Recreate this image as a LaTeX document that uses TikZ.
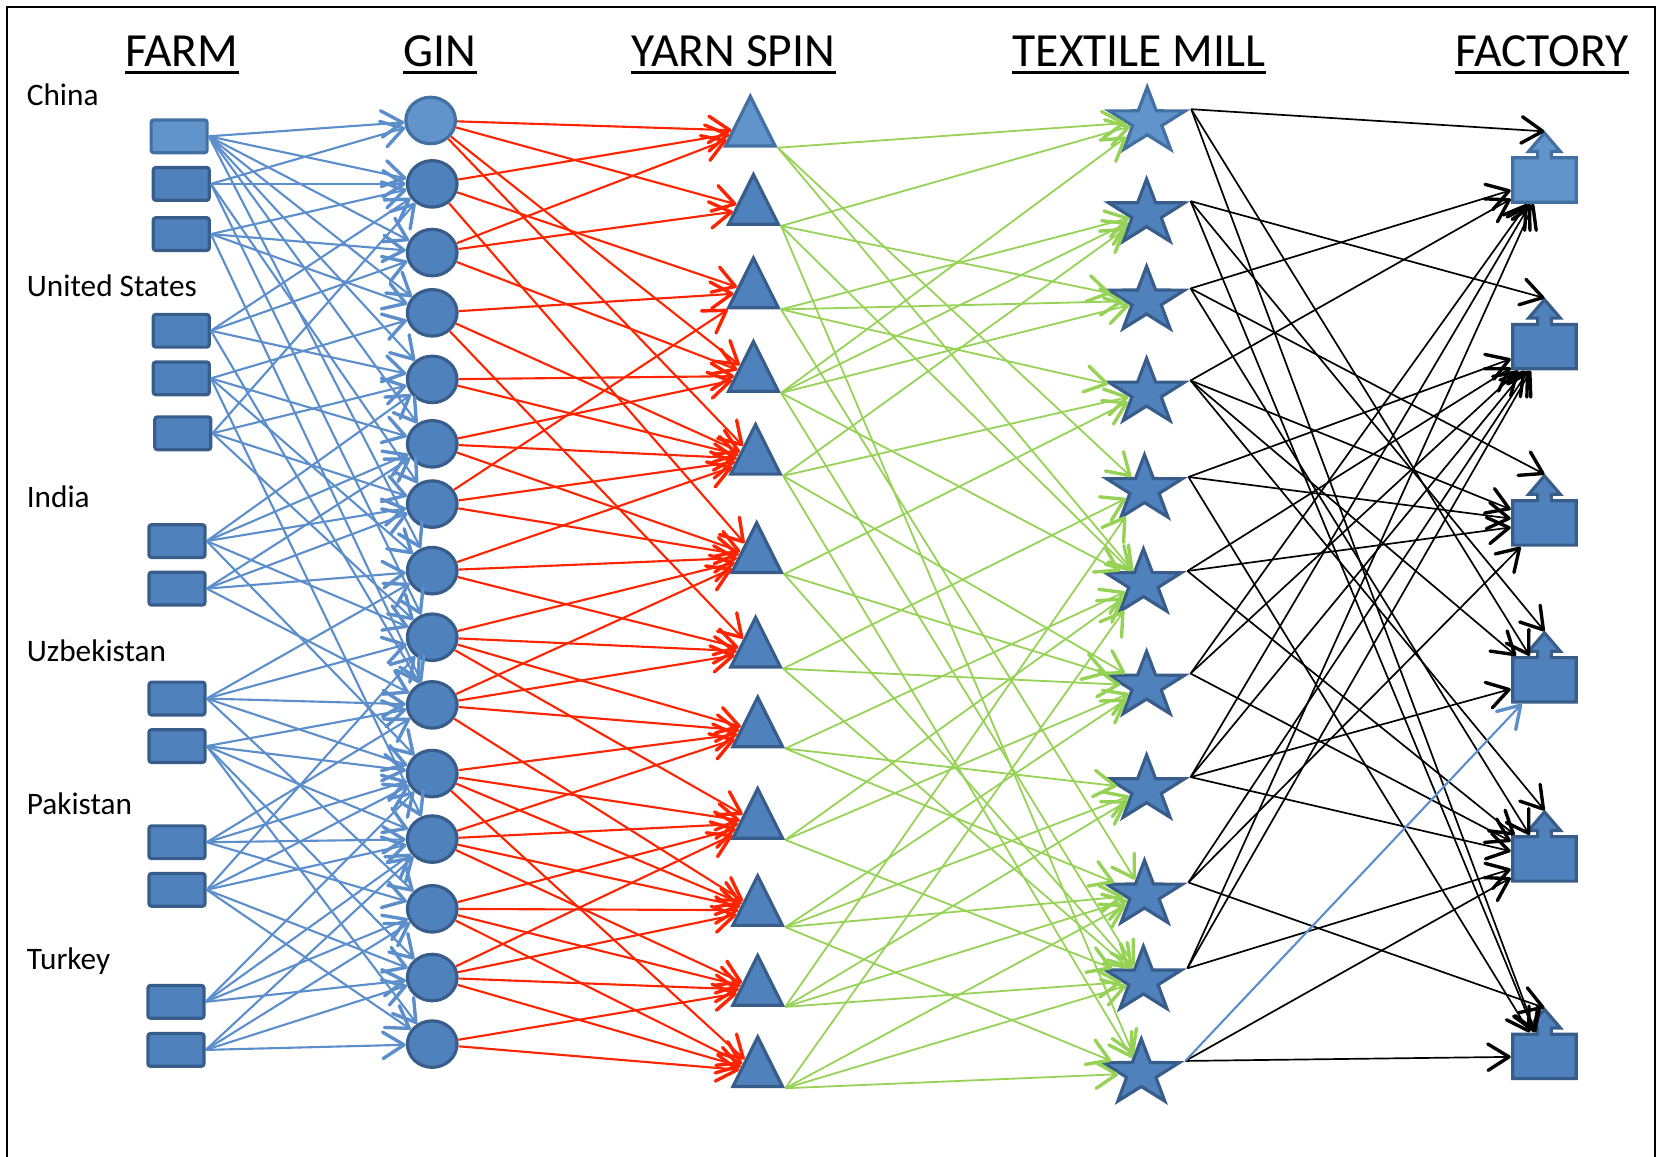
\documentclass[tikz,border=0pt]{standalone}
\usepackage{fontspec}
\setmainfont{Carlito}
\usetikzlibrary{shapes.geometric,arrows.meta}
\definecolor{nodefill}{RGB}{79,129,189}
\definecolor{nodeline}{RGB}{56,93,138}
\definecolor{lightfill}{RGB}{97,148,203}
\definecolor{lightline}{RGB}{66,112,162}
\definecolor{bluee}{RGB}{91,142,203}
\definecolor{rede}{RGB}{255,36,0}
\definecolor{greene}{RGB}{150,210,86}
\tikzset{
  shp/.style={draw=nodeline, fill=nodefill, line width=1.5pt, inner sep=0pt, outer sep=0.8pt},
  lite/.style={draw=lightline, fill=lightfill},
  farmbox/.style={shp, rectangle, rounded corners=1.2pt, minimum width=26.5pt, minimum height=15.5pt},
  ginball/.style={shp, ellipse, minimum width=23.5pt, minimum height=22pt},
  yarntri/.style={shp, isosceles triangle, isosceles triangle stretches, shape border rotate=90, minimum width=23.5pt, minimum height=23.5pt, anchor=apex},
  millstar/.style={shp, star, star points=5, star point ratio=2.6, minimum size=32.6pt, transform shape},
  factorybody/.style={rectangle, inner sep=0pt, outer sep=0.8pt, minimum width=30.3pt, minimum height=21.2pt},
  headV/.style={-{Straight Barb[length=10pt,width=12.5pt,line width=1.6pt,round]}},
  blueedge/.style={draw=bluee, line width=1pt, headV},
  rededge/.style={draw=rede, line width=1pt, headV},
  greenedge/.style={draw=greene, line width=0.85pt, headV},
  blackedge/.style={draw=black, line width=0.8pt, headV},
  title/.style={font=\fontsize{22.5}{27}\selectfont, inner sep=0pt, anchor=base},
  country/.style={font=\fontsize{14.8}{18}\selectfont, inner sep=0pt, anchor=base west},
  uline/.style={line width=1.25pt}
}
\newcommand{\fctry}[3]{%
  \begin{scope}[shift={(1461.5,#2)}]
    \path[shp,#3] (-30,21) -- (-30,-21) -- (-6.5,-21) -- (-6.5,-27) -- (-15,-27) -- (0,-44.5) -- (15,-27) -- (6.5,-27) -- (6.5,-21) -- (30,-21) -- (30,21) -- cycle;
    \node[factorybody] (#1) at (0,0) {};
    \coordinate (#1t) at (0,-46);
  \end{scope}}
\newcommand{\mstar}[4]{%
  \begin{scope}[shift={(#2,#3)},xscale=1.16]
    \node[millstar,#4] (#1) at (0,0) {};
  \end{scope}}
\begin{document}
\begin{tikzpicture}[x=0.5pt,y=-0.5pt]
\useasboundingbox (0,0) rectangle (1568,1094);
\draw[line width=1pt] (7,1110) -- (7,7) -- (1566,7) -- (1566,1110);
% titles
\node[title] (hfarm) at (172,63) {FARM};
\node[title] (hgin) at (416.5,63) {GIN};
\node[title] (hyarn) at (694,63) {YARN SPIN};
\node[title] (hmill) at (1078,63) {TEXTILE MILL};
\node[title] (hfac) at (1459,63) {FACTORY};
\foreach \h in {hfarm,hgin,hyarn,hmill,hfac}
  \draw[uline] ([yshift=-2.75pt]\h.base west) -- ([yshift=-2.75pt]\h.base east);
% countries
\node[country] (lchina) at (25,100) {China};
\node[country] (lus) at (25,281) {United States};
\node[country] (lindia) at (25,480) {India};
\node[country] (luzb) at (25,626) {Uzbekistan};
\node[country] (lpak) at (25,771) {Pakistan};
\node[country] (ltur) at (25,917) {Turkey};
% farms
\node[farmbox,lite] (f1) at (169.5,129) {};
\node[farmbox] (f2) at (171.5,174) {};
\node[farmbox] (f3) at (171.5,221.5) {};
\node[farmbox] (f4) at (171.5,313) {};
\node[farmbox] (f5) at (171.5,358) {};
\node[farmbox] (f6) at (173,410) {};
\node[farmbox] (f7) at (167.5,512) {};
\node[farmbox] (f8) at (167.5,557) {};
\node[farmbox] (f9) at (167.5,661) {};
\node[farmbox] (f10) at (167.5,706) {};
\node[farmbox] (f11) at (167.5,797) {};
\node[farmbox] (f12) at (167.5,842) {};
\node[farmbox] (f13) at (166.5,948) {};
\node[farmbox] (f14) at (166.5,993.5) {};
% gins
\node[ginball,lite] (c1) at (407.5,114) {};
\foreach \i/\y in {2/174,3/239,4/296,5/359,6/420,7/477,8/540,9/603,10/667,11/732,12/794,13/860,14/925,15/988}
  \node[ginball] (c\i) at (409,\y) {};
% yarn spin
\node[yarntri,lite] (t1) at (710,87) {};
\foreach \i/\x/\y in {2/713/161,3/713/240,4/713/319,5/715/397.5,6/716/490.5,7/715/580,8/717/655.5,9/717/742,10/717/824.5,11/717/900,12/717/977}
  \node[yarntri] (t\i) at (\x,\y) {};
% textile mill
\mstar{s1}{1085.6}{115}{lite}
\mstar{s2}{1085}{202}{}
\mstar{s3}{1085}{284.6}{}
\mstar{s4}{1085}{371.7}{}
\mstar{s5}{1083}{463}{}
\mstar{s6}{1082}{552}{}
\mstar{s7}{1085}{649}{}
\mstar{s8}{1085}{747}{}
\mstar{s9}{1083}{846.7}{}
\mstar{s10}{1082}{928}{}
\mstar{s11}{1080}{1015.6}{}
% factories
\fctry{fa1}{170.3}{lite}
\fctry{fa2}{328}{}
\fctry{fa3}{494.8}{}
\fctry{fa4}{643.3}{}
\fctry{fa5}{812.8}{}
\fctry{fa6}{999.7}{}
% farm -> gin
\foreach \a/\b in {1/1,1/2,1/3,1/4,1/5,1/6,1/8, 2/1,2/2,2/7,2/9, 3/2,3/3,3/4,3/10, 4/2,4/3,4/5,4/10, 5/4,5/6,5/8,5/12, 6/2,6/5,6/7,6/9, 7/5,7/6,7/7,7/9,7/11, 8/6,8/7,8/8,8/10, 9/8,9/9,9/10,9/11,9/13, 10/10,10/11,10/12,10/14,10/15, 11/10,11/11,11/12,11/13, 12/9,12/11,12/12,12/14,12/15, 13/11,13/12,13/13,13/14, 14/12,14/13,14/14,14/15}
  \draw[blueedge] (f\a.east) -- (c\b);
% gin -> yarn
\foreach \a/\b in {1/1,1/2,1/4,1/5, 2/1,2/3,2/6, 3/1,3/2,3/4, 4/3,4/5,4/7, 5/4,5/5, 6/4,6/5,6/6, 7/3,7/5,7/6, 8/5,8/6,8/7, 9/6,9/7,9/8,9/9, 10/6,10/7,10/8,10/10, 11/8,11/9,11/10,11/12, 12/8,12/9,12/10,12/11, 13/9,13/10,13/11,13/12, 14/9,14/10,14/11,14/12, 15/11,15/12}
  \draw[rededge] (c\a) -- (t\b);
% yarn -> mill
\foreach \a/\b in {1/1,1/5,1/6, 2/1,2/3,2/6,2/11, 3/2,3/3,3/4,3/9, 4/1,4/2,4/3,4/6,4/10, 5/2,5/4,5/7,5/11, 6/4,6/7,6/10, 7/5,7/7,7/10, 8/6,8/8,8/9, 9/6,9/7,9/10, 10/7,10/8,10/9,10/11, 11/5,11/8,11/9,11/10, 12/6,12/9,12/10,12/11}
  \draw[greenedge] (t\a.right corner) -- (s\b);
% mill -> factory
\foreach \a/\b in {1/1,2/2,2/4,3/3,4/5,9/6}
  \draw[blackedge] (s\a.outer point 5) -- (fa\b t);
\foreach \a/\b in {1/4,1/6,2/6,3/1,3/5,4/1,4/3,4/4,5/2,5/3,5/6,6/2,6/3,6/5,7/1,7/2,7/5,8/1,8/2,8/4,8/5,9/2,9/3,10/1,10/2,10/5,11/5,11/6}
  \draw[blackedge] (s\a.outer point 5) -- (fa\b);
\draw[blueedge] (s11.outer point 5) -- (fa4);
\end{tikzpicture}
\end{document}
